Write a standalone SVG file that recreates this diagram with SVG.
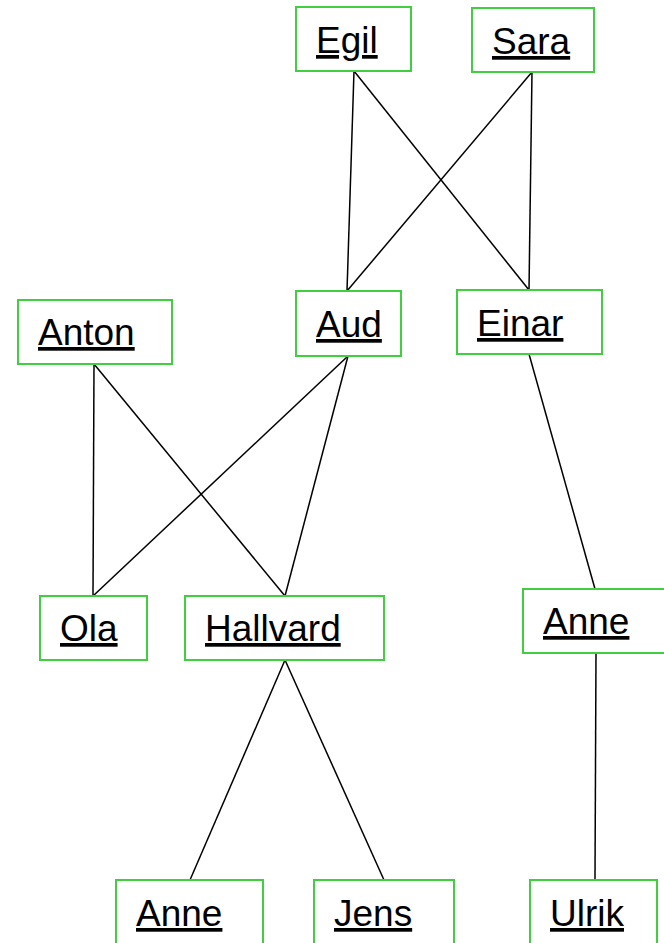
<svg xmlns="http://www.w3.org/2000/svg" width="664" height="943" viewBox="0 0 664 943">
  <style>
    .box { fill: #ffffff; stroke: #3fcf3f; stroke-width: 2; }
    .label { font-family: "Liberation Sans", Arial, sans-serif; font-size: 37px; fill: #000000; text-decoration: underline; text-decoration-thickness: 2px; }
    .edge { stroke: #000000; stroke-width: 1.5; fill: none; }
  </style>
  <rect width="664" height="943" fill="#ffffff"/>

  <!-- parent/child links -->
  <g id="connectors">
    <line class="edge" x1="354" y1="71" x2="347" y2="291"/>
    <line class="edge" x1="354" y1="71" x2="529" y2="290"/>
    <line class="edge" x1="532" y1="72" x2="347" y2="291"/>
    <line class="edge" x1="532" y1="72" x2="529" y2="290"/>
    <line class="edge" x1="94" y1="364" x2="93" y2="596"/>
    <line class="edge" x1="94" y1="364" x2="285" y2="596"/>
    <line class="edge" x1="348" y1="356" x2="93" y2="596"/>
    <line class="edge" x1="348" y1="356" x2="285" y2="596"/>
    <line class="edge" x1="529" y1="354" x2="595" y2="589"/>
    <line class="edge" x1="285" y1="660" x2="190" y2="880"/>
    <line class="edge" x1="285" y1="660" x2="384" y2="880"/>
    <line class="edge" x1="596" y1="653" x2="595" y2="880"/>
  </g>

  <g id="egil">
    <rect class="box" x="296" y="7" width="115" height="64"/>
    <text class="label" x="316" y="53">Egil</text>
  </g>
  <g id="sara">
    <rect class="box" x="472" y="8" width="122" height="64"/>
    <text class="label" x="492" y="54">Sara</text>
  </g>
  <g id="anton">
    <rect class="box" x="18" y="300" width="154" height="64"/>
    <text class="label" x="38" y="345">Anton</text>
  </g>
  <g id="aud">
    <rect class="box" x="296" y="291" width="105" height="65"/>
    <text class="label" x="316" y="337">Aud</text>
  </g>
  <g id="einar">
    <rect class="box" x="457" y="290" width="145" height="64"/>
    <text class="label" x="477" y="336">Einar</text>
  </g>
  <g id="ola">
    <rect class="box" x="40" y="596" width="107" height="64"/>
    <text class="label" x="60" y="641">Ola</text>
  </g>
  <g id="hallvard">
    <rect class="box" x="185" y="596" width="199" height="64"/>
    <text class="label" x="205" y="641">Hallvard</text>
  </g>
  <g id="anne-einar">
    <rect class="box" x="523" y="589" width="145" height="64"/>
    <text class="label" x="543" y="634">Anne</text>
  </g>
  <g id="anne-hallvard">
    <rect class="box" x="116" y="880" width="147" height="70"/>
    <text class="label" x="136" y="926">Anne</text>
  </g>
  <g id="jens">
    <rect class="box" x="314" y="880" width="140" height="70"/>
    <text class="label" x="334" y="926">Jens</text>
  </g>
  <g id="ulrik">
    <rect class="box" x="530" y="880" width="127" height="70"/>
    <text class="label" x="550" y="926">Ulrik</text>
  </g>
</svg>
